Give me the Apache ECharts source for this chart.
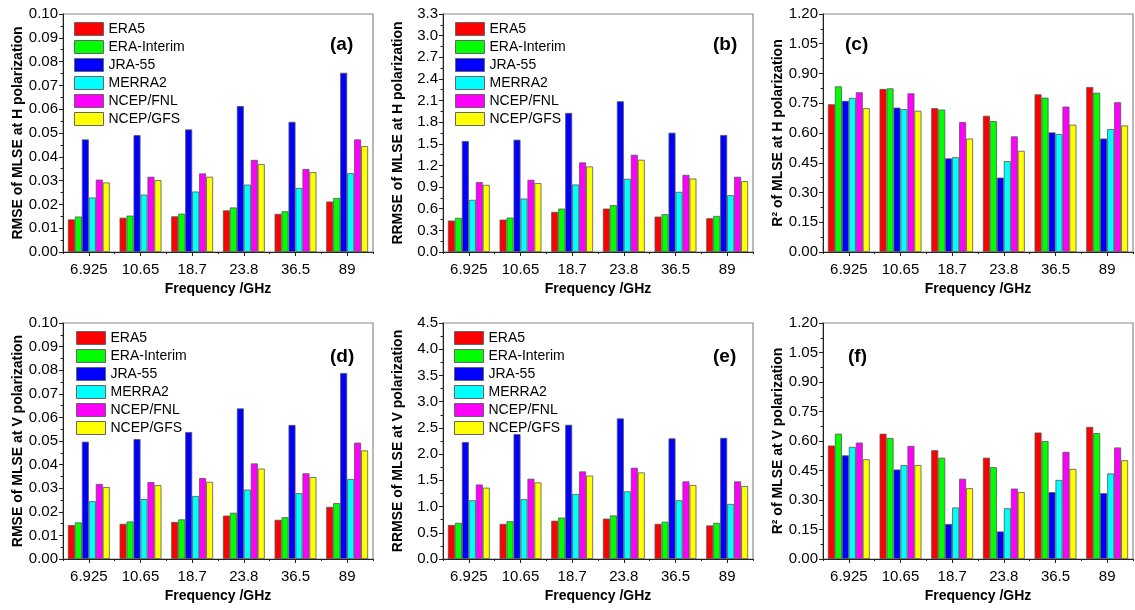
<!DOCTYPE html>
<html>
<head>
<meta charset="utf-8">
<script src="https://cdn.jsdelivr.net/npm/echarts@6/dist/echarts.min.js"></script>
<style>html,body{margin:0;padding:0;background:#fff}#c{width:1135px;height:610px}</style>
</head>
<body>
<div id="c"></div>
<script>
// ---- data ----
const categories = ['6.925', '10.65', '18.7', '23.8', '36.5', '89'];
const products = ['ERA5', 'ERA-Interim', 'JRA-55', 'MERRA2', 'NCEP/FNL', 'NCEP/GFS'];

// (a) RMSE, H polarization
const rmseH_ERA5 = [0.0137, 0.0144, 0.0150, 0.0175, 0.0160, 0.0212];
const rmseH_ERAI = [0.0149, 0.0153, 0.0161, 0.0187, 0.0171, 0.0227];
const rmseH_JRA = [0.0473, 0.0491, 0.0515, 0.0613, 0.0547, 0.0753];
const rmseH_MERRA = [0.0229, 0.0241, 0.0254, 0.0283, 0.0269, 0.0331];
const rmseH_FNL = [0.0304, 0.0316, 0.0330, 0.0387, 0.0349, 0.0473];
const rmseH_GFS = [0.0292, 0.0302, 0.0316, 0.0369, 0.0335, 0.0445];

// (b) RRMSE, H polarization
const rrmseH_ERA5 = [0.436, 0.449, 0.556, 0.602, 0.491, 0.468];
const rrmseH_ERAI = [0.473, 0.477, 0.602, 0.649, 0.524, 0.500];
const rrmseH_JRA = [1.539, 1.557, 1.928, 2.090, 1.654, 1.622];
const rrmseH_MERRA = [0.723, 0.741, 0.936, 1.015, 0.834, 0.788];
const rrmseH_FNL = [0.968, 1.001, 1.242, 1.348, 1.070, 1.043];
const rrmseH_GFS = [0.931, 0.955, 1.186, 1.279, 1.019, 0.982];

// (c) R2, H polarization
const r2H_ERA5 = [0.745, 0.822, 0.725, 0.687, 0.795, 0.832];
const r2H_ERAI = [0.835, 0.825, 0.718, 0.660, 0.778, 0.803];
const r2H_JRA = [0.762, 0.728, 0.472, 0.375, 0.603, 0.572];
const r2H_MERRA = [0.777, 0.720, 0.478, 0.458, 0.595, 0.620];
const r2H_FNL = [0.805, 0.800, 0.655, 0.583, 0.733, 0.755];
const r2H_GFS = [0.725, 0.712, 0.572, 0.510, 0.642, 0.638];

// (d) RMSE, V polarization
const rmseV_ERA5 = [0.0144, 0.0149, 0.0157, 0.0184, 0.0166, 0.0221];
const rmseV_ERAI = [0.0155, 0.0159, 0.0168, 0.0196, 0.0177, 0.0237];
const rmseV_JRA = [0.0497, 0.0508, 0.0538, 0.0638, 0.0568, 0.0788];
const rmseV_MERRA = [0.0245, 0.0254, 0.0267, 0.0294, 0.0279, 0.0339];
const rmseV_FNL = [0.0318, 0.0326, 0.0343, 0.0405, 0.0363, 0.0493];
const rmseV_GFS = [0.0305, 0.0313, 0.0327, 0.0383, 0.0347, 0.0460];

// (e) RRMSE, V polarization
const rrmseV_ERA5 = [0.65, 0.67, 0.73, 0.77, 0.67, 0.64];
const rrmseV_ERAI = [0.69, 0.72, 0.79, 0.83, 0.71, 0.69];
const rrmseV_JRA = [2.23, 2.38, 2.56, 2.68, 2.30, 2.31];
const rrmseV_MERRA = [1.12, 1.14, 1.24, 1.29, 1.12, 1.05];
const rrmseV_FNL = [1.42, 1.53, 1.67, 1.74, 1.48, 1.48];
const rrmseV_GFS = [1.36, 1.46, 1.59, 1.65, 1.41, 1.39];

// (f) R2, V polarization
const r2V_ERA5 = [0.577, 0.637, 0.553, 0.515, 0.643, 0.672];
const r2V_ERAI = [0.637, 0.615, 0.515, 0.467, 0.600, 0.640];
const r2V_JRA = [0.527, 0.455, 0.178, 0.140, 0.340, 0.335];
const r2V_MERRA = [0.570, 0.477, 0.262, 0.258, 0.402, 0.435];
const r2V_FNL = [0.592, 0.575, 0.408, 0.358, 0.545, 0.567];
const r2V_GFS = [0.507, 0.478, 0.360, 0.340, 0.458, 0.502];

// axis settings per panel
const yMax = [0.10, 3.3, 1.20, 0.10, 4.5, 1.20];
const yInterval = [0.01, 0.3, 0.15, 0.01, 0.5, 0.15];
const yDecimals = [2, 1, 2, 2, 1, 2];
const yNames = [
  'RMSE of MLSE at H polarization',
  'RRMSE of MLSE at H polarization',
  'R\u00B2 of MLSE at H polarization',
  'RMSE of MLSE at V polarization',
  'RRMSE of MLSE at V polarization',
  'R\u00B2 of MLSE at V polarization'
];
const panelLabels = ['(a)', '(b)', '(c)', '(d)', '(e)', '(f)'];
const xName = 'Frequency /GHz';

const panelData = [
  [rmseH_ERA5, rmseH_ERAI, rmseH_JRA, rmseH_MERRA, rmseH_FNL, rmseH_GFS],
  [rrmseH_ERA5, rrmseH_ERAI, rrmseH_JRA, rrmseH_MERRA, rrmseH_FNL, rrmseH_GFS],
  [r2H_ERA5, r2H_ERAI, r2H_JRA, r2H_MERRA, r2H_FNL, r2H_GFS],
  [rmseV_ERA5, rmseV_ERAI, rmseV_JRA, rmseV_MERRA, rmseV_FNL, rmseV_GFS],
  [rrmseV_ERA5, rrmseV_ERAI, rrmseV_JRA, rrmseV_MERRA, rrmseV_FNL, rrmseV_GFS],
  [r2V_ERA5, r2V_ERAI, r2V_JRA, r2V_MERRA, r2V_FNL, r2V_GFS]
];

// ---- layout & style ----
const colors = ['#FF0000', '#00FF00', '#0000FF', '#00FFFF', '#FF00FF', '#FFFF00'];
const FONT = '"Liberation Sans", Arial, sans-serif';
const colLeft = [63, 443, 823];
const rowTop = [14, 323];
const rowHeight = [238, 236];
const plotWidth = 310;
const labelPos = [[330, 35], [713, 35], [845, 35], [330, 347], [713, 347], [848, 347]];
const legendPos = [[74, 22], [455, 22], null, [76, 331], [454, 331], null];

const grids = [], xAxes = [], yAxes = [], series = [], titles = [], legends = [];
for (let p = 0; p < 6; p++) {
  const r = Math.floor(p / 3), c = p % 3;
  grids.push({
    left: colLeft[c], top: rowTop[r], width: plotWidth, height: rowHeight[r],
    show: true, borderColor: '#8a8a8a', borderWidth: 1.2, backgroundColor: 'transparent'
  });
  xAxes.push({
    type: 'category', gridIndex: p, data: categories, position: 'bottom',
    name: xName, nameLocation: 'middle', nameGap: 30,
    nameTextStyle: { fontFamily: FONT, fontSize: 14, fontWeight: 'bold', color: '#000' },
    axisLine: { lineStyle: { color: '#222', width: 1 } },
    axisTick: { show: true, alignWithLabel: true, length: 4, lineStyle: { color: '#222' } },
    axisLabel: { fontFamily: FONT, fontSize: 15, color: '#000', margin: 10 },
    splitLine: { show: false }
  });
  xAxes.push({
    type: 'category', gridIndex: p, data: categories, position: 'bottom',
    axisLine: { show: false },
    axisTick: { show: true, length: 2, lineStyle: { color: '#222' } },
    axisLabel: { show: false }, splitLine: { show: false }
  });
  const dec = yDecimals[p];
  yAxes.push({
    type: 'value', gridIndex: p, min: 0, max: yMax[p], interval: yInterval[p],
    name: yNames[p], nameLocation: 'middle', nameGap: 38, nameRotate: 90,
    nameTextStyle: { fontFamily: FONT, fontSize: 14, fontWeight: 'bold', color: '#000' },
    axisLine: { show: true, lineStyle: { color: '#222', width: 1 } },
    axisTick: { show: true, length: 4, lineStyle: { color: '#222' } },
    minorTick: { show: true, splitNumber: 2, length: 2.5, lineStyle: { color: '#222' } },
    axisLabel: { fontFamily: FONT, fontSize: 15, color: '#000', margin: 5,
      formatter: v => Number(v).toFixed(dec) },
    splitLine: { show: false }
  });
  panelData[p].forEach((arr, k) => {
    series.push({
      type: 'bar', name: products[k], xAxisIndex: 2 * p, yAxisIndex: p,
      data: arr, barGap: '0%', barCategoryGap: '19%',
      itemStyle: { color: colors[k], borderColor: '#555', borderWidth: 0.8 },
      emphasis: { disabled: true }, animation: false
    });
  });
  titles.push({
    text: panelLabels[p], left: labelPos[p][0], top: labelPos[p][1], padding: 0,
    textStyle: { fontFamily: FONT, fontSize: 19, fontWeight: 'bold', color: '#000' }
  });
  if (legendPos[p]) {
    legends.push({
      data: products, orient: 'vertical', left: legendPos[p][0], top: legendPos[p][1],
      padding: 0, itemWidth: 29, itemHeight: 13, itemGap: 4, icon: 'rect',
      selectedMode: false,
      itemStyle: { borderColor: '#666', borderWidth: 1 },
      textStyle: { fontFamily: FONT, fontSize: 14, color: '#000' }
    });
  }
}

const chart = echarts.init(document.getElementById('c'), null, { renderer: 'canvas' });
chart.setOption({
  animation: false,
  color: colors,
  title: titles,
  legend: legends,
  grid: grids,
  xAxis: xAxes,
  yAxis: yAxes,
  series: series
});
</script>
</body>
</html>
